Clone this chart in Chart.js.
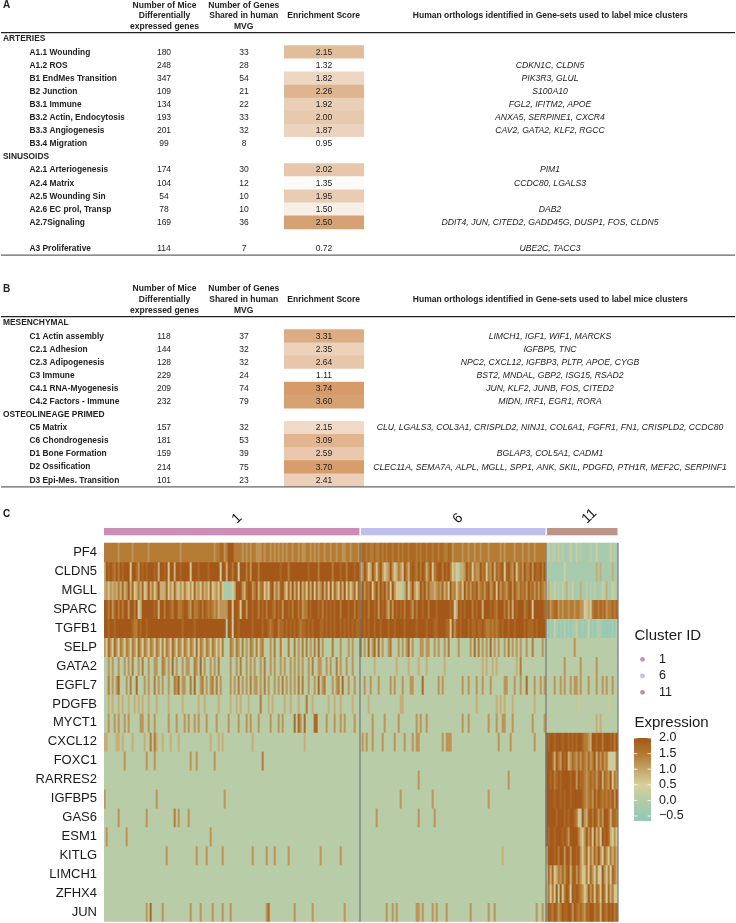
<!DOCTYPE html>
<html>
<head>
<meta charset="utf-8">
<title>Enrichment tables and cluster heatmap</title>
<script src="https://cdn.jsdelivr.net/npm/chart.js@4"></script>
<style>
  html, body { margin: 0; padding: 0; background: #fff; }
  body { position: relative; width: 736px; height: 923px; overflow: hidden; }
  canvas { position: absolute; left: 0; display: block; filter: blur(0.35px); }
  #heatmap { filter: blur(0.6px); }
</style>
</head>
<body>
<canvas id="tableA" width="736" height="262" style="top:0"></canvas>
<canvas id="tableB" width="736" height="222" style="top:270px"></canvas>
<canvas id="heatmap" width="736" height="418" style="top:505px"></canvas>
<canvas id="colorbar" width="100" height="96" style="left:620px;top:730px"></canvas>
<script>
// Table A
const rowsA = ["ARTERIES", "A1.1 Wounding", "A1.2 ROS", "B1 EndMes Transition", "B2 Junction", "B3.1 Immune", "B3.2 Actin, Endocytosis", "B3.3 Angiogenesis", "B3.4 Migration", "SINUSOIDS", "A2.1 Arteriogenesis", "A2.4 Matrix", "A2.5 Wounding Sin", "A2.6 EC prol, Transp", "A2.7Signaling", "", "A3 Proliferative"];
const miceA = [null, 180, 248, 347, 109, 134, 193, 201, 99, null, 174, 104, 54, 78, 169, null, 114];
const sharedA = [null, 33, 28, 54, 21, 22, 33, 32, 8, null, 30, 12, 10, 10, 36, null, 7];
const scoreA = [null, 2.15, 1.32, 1.82, 2.26, 1.92, 2.00, 1.87, 0.95, null, 2.02, 1.35, 1.95, 1.50, 2.50, null, 0.72];
const orthologsA = ["", "", "CDKN1C, CLDN5", "PIK3R3, GLUL", "S100A10", "FGL2, IFITM2, APOE", "ANXA5, SERPINE1, CXCR4", "CAV2, GATA2, KLF2, RGCC", "", "", "PIM1", "CCDC80, LGALS3", "", "DAB2", "DDIT4, JUN, CITED2, GADD45G, DUSP1, FOS, CLDN5", "", "UBE2C, TACC3"];

// Table B
const rowsB = ["MESENCHYMAL", "C1 Actin assembly", "C2.1 Adhesion", "C2.3 Adipogenesis", "C3 Immune", "C4.1 RNA-Myogenesis", "C4.2 Factors - Immune", "OSTEOLINEAGE PRIMED", "C5 Matrix", "C6 Chondrogenesis", "D1 Bone Formation", "D2 Ossification", "D3 Epi-Mes. Transition"];
const miceB = [null, 118, 144, 128, 229, 209, 232, null, 157, 181, 159, 214, 101];
const sharedB = [null, 37, 32, 32, 24, 74, 79, null, 32, 53, 39, 75, 23];
const scoreB = [null, 3.31, 2.35, 2.64, 1.11, 3.74, 3.60, null, 2.15, 3.09, 2.59, 3.70, 2.41];
const orthologsB = ["", "LIMCH1, IGF1, WIF1, MARCKS", "IGFBP5, TNC", "NPC2, CXCL12, IGFBP3, PLTP, APOE, CYGB", "BST2, MNDAL, GBP2, ISG15, RSAD2", "JUN, KLF2, JUNB, FOS, CITED2", "MIDN, IRF1, EGR1, RORA", "", "CLU, LGALS3, COL3A1, CRISPLD2, NINJ1, COL6A1, FGFR1, FN1, CRISPLD2, CCDC80", "", "BGLAP3, COL5A1, CADM1", "CLEC11A, SEMA7A, ALPL, MGLL, SPP1, ANK, SKIL, PDGFD, PTH1R, MEF2C, SERPINF1", ""];

// Heatmap. Each cell is a level 0-9 (0 = -0.5, 9 = 2.0).
// A string lists every cell of the cluster, {level: [cells]} lists the stripes on a background row.
const genes = ["PF4", "CLDN5", "MGLL", "SPARC", "TGFB1", "SELP", "GATA2", "EGFL7", "PDGFB", "MYCT1", "CXCL12", "FOXC1", "RARRES2", "IGFBP5", "GAS6", "ESM1", "KITLG", "LIMCH1", "ZFHX4", "JUN"];
const clusterNames = ["1", "6", "11"];
const clusterSizes = [128, 93, 36];

const cluster1Levels = [
  "7777777677 7777677777 7767777777 7777777767 7777777777 7777767788 6799977776 7676776667 6776767676 7677677676 6776767677 6776776776 67767776",
  "5989879798 9994998698 9899989599 8949959989 9994999899 9989999939 9599799399 9796999799 9999999989 9979999999 9989999799 9999799989 97999899",
  "5646565758 5695845758 4595746955 5846485464 7546485647 5648456474 1111359996 5899679578 4648957589 6485958495 7485948569 5849486485 94746848",
  "9979689797 9969979359 9999989599 7998799778 9976977897 9878767566 6699499849 9699899798 9799879896 9989799796 7798999897 9898989979 99899798",
  "9989989999 9999877989 9899999999 9999999998 9999989999 9999999999 9199399899 9999899998 9987899788 9898989878 8989899988 9898989989 89898988",
  "6386386376 3763763863 7637637637 3763863763 7637638376 3763763637 2227627627 2627627367 2226272274 2272272627 2726272826 2222722262 22626222",
  "2262622622 6262722627 2262266227 6262826226 2662276282 6226262722 2226226272 2626262262 7226262262 6226262626 2262722662 2626227262 26226222",
  "2272626822 2627228222 6262272626 2262276826 6227282267 2626727262 2226262726 2627266262 7262262627 2626262727 2262262826 7222626728 22622622",
  {5: [2, 4, 7, 9, 12, 15, 17, 19, 22, 26, 32, 39, 47, 50, 57, 63, 66, 68, 72, 82, 84, 90, 93, 97, 104, 112, 115, 118, 124], 7: [78, 101]},
  {6: [2, 5, 7, 10, 12, 18, 19, 22, 25, 32, 36, 40, 42, 45, 47, 51, 56, 62, 67, 71, 73, 77, 83, 87, 89, 98, 111, 115, 118, 120, 125], 8: [95, 97, 100, 105, 106]},
  {5: [0, 1, 6, 7, 9, 14, 20, 26, 29, 33, 37, 53, 57, 59, 74, 100], 7: [23, 25]},
  {6: [10, 21, 25, 43, 46, 55], 7: [79]},
  {},
  {6: [0, 26, 60]},
  {6: [7, 21, 37, 42], 7: [35]},
  {6: [1, 11, 53]},
  {6: [31, 46, 51, 59, 74, 81, 85, 92, 108, 118]},
  {},
  {},
  {6: [21, 29, 43, 48, 54, 59, 63, 81, 95, 104, 120], 8: [23, 82]}
];

const cluster6Levels = [
  "7887877877 8787887887 8788788878 7887887887 8877886777 7677677677 6777677777 6767777677 7677677677 777",
  "5697459747 9645696457 6497589879 7985794789 9798974532 5569784766 9784769587 8948976947 8697796988 979",
  "6968794796 9796849644 4158469645 9796866567 6857496746 7496868796 7868967949 6876896976 8786978686 876",
  "8989799896 9897596989 8979986979 9899799989 9999989359 8989997989 9599989879 9979695989 9978994999 998",
  "9989899899 8999899899 9989999989 9998999889 9998849689 8999898898 8987787878 9899899899 9989888989 999",
  "8262826828 2622672226 2626826222 6626622626 2262722226 2222262827 2626282626 2262726262 6226227222 262",
  {5: [7, 18, 24, 29, 33, 42, 61, 63, 66, 68, 78], 7: [80]},
  {6: [2, 5, 9, 15, 17, 21, 25, 26, 39, 41, 51, 54, 58, 61, 65, 72, 73, 77, 80, 87, 90, 92], 8: [31, 83]},
  {5: [4, 20, 21, 58, 68, 70, 72, 76, 87]},
  {6: [6, 12, 19, 28, 30, 33, 51, 54, 64, 68, 71, 72, 76, 86, 92]},
  {6: [1, 3, 6, 11, 17, 22, 26, 28, 29, 41, 43, 44, 45, 69, 75, 87]},
  {},
  {6: [29, 74]},
  {6: [20, 36, 64]},
  {6: [8, 29, 37]},
  {},
  {5: [71]},
  {},
  {},
  {6: [13, 16, 18, 28, 29, 31, 36, 38, 43, 55, 64, 67, 88, 91]}
];

const cluster11Levels = [
  "1312214121 1131131211 1121131111 113121",
  "1111111113 1111111111 1111151511 111511",
  "2521312131 5213111511 2121211132 511321",
  "7867886767 7677677663 4537887878 677878",
  "1010310102 0101140010 1301012100 000102",
  {6: [14]},
  {6: [9, 17, 25]},
  {6: [4, 7, 9, 12, 14, 15, 17, 21, 25, 28, 30, 33]},
  {4: [16, 31]},
  {5: [25, 27]},
  "9899899989 9898989987 7659989979 998979",
  "9998597698 9568768687 6867958686 743337",
  "9989789899 9989969887 6787868958 769476",
  "9999899898 9989999987 6786979878 787969",
  "9999989998 9899874296 5897986869 985887",
  "9899899989 8699997536 9684957498 985364",
  "5999897996 9969989646 8475869638 647575",
  "4858457686 8958968644 7486374396 473875",
  "5747492947 9839898764 5968487497 385743",
  "6987986798 8996987876 8899788598 798978"
];

const legendTicks = [-0.5, 0, 0.5, 1, 1.5, 2];

const FONT = '"Liberation Sans", Arial, sans-serif';
const clusterColors = ["#cb8db5", "#bfbfee", "#bb9588"];
const heatStops = [[-0.5, [152, 201, 180]], [0, [180, 203, 168]], [0.5, [215, 208, 156]], [1, [196, 163, 106]], [1.5, [179, 119, 48]], [2, [164, 88, 26]]];

function heatColor(value) {
  for (let i = 1; i < heatStops.length; i++) {
    if (value <= heatStops[i][0]) {
      const [v0, c0] = heatStops[i - 1];
      const [v1, c1] = heatStops[i];
      const t = Math.max(0, (value - v0) / (v1 - v0));
      return `rgb(${c0.map((c, k) => Math.round(c + (c1[k] - c) * t)).join(",")})`;
    }
  }
  return "rgb(164,88,26)";
}

function expandLevels(part, size) {
  if (typeof part === "string") return part.replace(/ /g, "").split("").map(Number);
  const out = new Array(size).fill(2);
  Object.keys(part).forEach((level) => part[level].forEach((cell) => (out[cell] = Number(level))));
  return out;
}

// ---- tables ----
function makeTable(id, t) {
  const draw = {
    id: "tableText",
    afterDraw(chart) {
      const ctx = chart.ctx;
      const y = chart.scales.y;
      const { top, bottom } = chart.chartArea;
      ctx.save();
      ctx.fillStyle = "#222";
      ctx.textBaseline = "middle";

      ctx.font = `bold 10px ${FONT}`;
      ctx.textAlign = "left";
      ctx.fillText(t.letter, 3, t.headerY[1] - 10.5);

      ctx.font = `bold 8.5px ${FONT}`;
      ctx.textAlign = "center";
      ["Number of Mice", "Differentially", "expressed genes"].forEach((s, i) => ctx.fillText(s, 164.5, t.headerY[i]));
      ["Number of Genes", "Shared in human", "MVG"].forEach((s, i) => ctx.fillText(s, 243.7, t.headerY[i]));
      ctx.fillText("Enrichment Score", 323.7, t.headerY[1]);
      ctx.fillText("Human orthologs identified in Gene-sets used to label mice clusters", 550.3, t.headerY[1]);

      t.rows.forEach((name, i) => {
        const py = y.getPixelForValue(i);
        ctx.textAlign = "left";
        ctx.font = `bold 8.4px ${FONT}`;
        if (t.mice[i] === null) {
          ctx.fillText(name, 3, py);
          return;
        }
        ctx.save();
        ctx.beginPath();
        ctx.rect(0, py - 8, 124.5, 16);
        ctx.clip();
        ctx.fillText(name, 29.5, py);
        ctx.restore();
        ctx.textAlign = "center";
        ctx.font = `8.5px ${FONT}`;
        ctx.fillText(t.mice[i], 164, py);
        ctx.fillText(t.shared[i], 244, py);
        ctx.fillText(t.score[i].toFixed(2), 324, py);
        ctx.font = `italic 8.65px ${FONT}`;
        ctx.fillText(t.orthologs[i], 550, py);
      });

      ctx.strokeStyle = "#222";
      ctx.lineWidth = 1.2;
      ctx.beginPath();
      ctx.moveTo(1, top);
      ctx.lineTo(735, top);
      ctx.stroke();
      ctx.strokeStyle = "#666";
      ctx.beginPath();
      ctx.moveTo(1, bottom);
      ctx.lineTo(735, bottom);
      ctx.stroke();
      ctx.restore();
    },
  };

  new Chart(document.getElementById(id), {
    type: "bar",
    data: {
      labels: t.rows,
      datasets: [
        {
          data: t.score.map((s) => (s === null ? null : [0, 1])),
          backgroundColor: t.score.map((s) => {
            const k = s === null ? 0 : Math.min(1, Math.max(0, (s - t.low) / (t.high - t.low)));
            return `rgb(${Math.round(255 - k * (255 - t.dark[0]))},${Math.round(255 - k * (255 - t.dark[1]))},${Math.round(255 - k * (255 - t.dark[2]))})`;
          }),
          barPercentage: 1,
          categoryPercentage: 1,
        },
      ],
    },
    options: {
      indexAxis: "y",
      responsive: false,
      animation: false,
      layout: { padding: { left: 284, right: 372, top: t.top, bottom: t.bottom } },
      plugins: { legend: { display: false }, tooltip: { enabled: false } },
      scales: {
        x: { display: false, min: 0, max: 1 },
        y: { display: false },
      },
    },
    plugins: [draw],
  });
}

makeTable("tableA", {
  letter: "A", rows: rowsA, mice: miceA, shared: sharedA, score: scoreA, orthologs: orthologsA,
  headerY: [5.5, 16, 27], top: 32.6, bottom: 6.8, low: 1.3, high: 2.5, dark: [214, 162, 115],
});
makeTable("tableB", {
  letter: "B", rows: rowsB, mice: miceB, shared: sharedB, score: scoreB, orthologs: orthologsB,
  headerY: [18.3, 30, 40.7], top: 46.6, bottom: 5.2, low: 1.2, high: 3.74, dark: [214, 155, 105],
});

// ---- heatmap ----
const totalCells = clusterSizes[0] + clusterSizes[1] + clusterSizes[2];
const cells = Array.from({ length: totalCells }, (_, i) => i);
const annotationTop = -0.79;
const annotationBottom = -0.42;

const geneDatasets = genes.map((gene, row) => {
  const levels = [
    ...expandLevels(cluster1Levels[row], clusterSizes[0]),
    ...expandLevels(cluster6Levels[row], clusterSizes[1]),
    ...expandLevels(cluster11Levels[row], clusterSizes[2]),
  ];
  return {
    label: gene,
    data: cells.map(() => [row, row + 1]),
    backgroundColor: levels.map((d) => heatColor(-0.5 + (d * 2.5) / 9)),
    barPercentage: 1,
    categoryPercentage: 1,
    grouped: false,
  };
});

const annotationDataset = {
  label: "Cluster",
  data: cells.map(() => [annotationTop, annotationBottom]),
  backgroundColor: cells.map((c) => clusterColors[c < clusterSizes[0] ? 0 : c < clusterSizes[0] + clusterSizes[1] ? 1 : 2]),
  barPercentage: 1,
  categoryPercentage: 1,
  grouped: false,
};

const heatmapExtras = {
  id: "heatmapExtras",
  afterDraw(chart) {
    const ctx = chart.ctx;
    const x = chart.scales.x;
    const y = chart.scales.y;
    ctx.save();
    ctx.fillStyle = "#111";
    ctx.textBaseline = "middle";
    ctx.textAlign = "left";
    ctx.font = `bold 10px ${FONT}`;
    ctx.fillText("C", 3, 9.5);

    // separators and cluster names
    let start = 0;
    clusterSizes.forEach((size, i) => {
      const left = x.getPixelForValue(start) - 1;
      const right = x.getPixelForValue(start + size - 1) + 1;
      ctx.fillStyle = "#fff";
      ctx.fillRect(right - 0.5, y.getPixelForValue(annotationTop), 1.5, y.getPixelForValue(annotationBottom) - y.getPixelForValue(annotationTop));
      ctx.strokeStyle = "#74777c";
      ctx.lineWidth = 1.2;
      ctx.beginPath();
      ctx.moveTo(right, y.getPixelForValue(0));
      ctx.lineTo(right, y.getPixelForValue(20));
      ctx.stroke();

      ctx.save();
      ctx.translate((left + right) / 2 + 5, 19);
      ctx.rotate(-Math.PI / 4);
      ctx.fillStyle = "#111";
      ctx.font = `14px ${FONT}`;
      ctx.textBaseline = "alphabetic";
      ctx.fillText(clusterNames[i], 0, 0);
      ctx.restore();
      start += size;
    });

    // cluster legend
    ctx.fillStyle = "#1a1a1a";
    ctx.font = `15px ${FONT}`;
    ctx.fillText("Cluster ID", 634.5, 131);
    ctx.fillText("Expression", 634.5, 218);
    ctx.font = `12.5px ${FONT}`;
    clusterNames.forEach((name, i) => {
      const py = 154.3 + i * 16.5;
      ctx.fillStyle = clusterColors[i];
      ctx.beginPath();
      ctx.arc(642.5, py, 2.4, 0, Math.PI * 2);
      ctx.fill();
      ctx.fillStyle = "#1a1a1a";
      ctx.fillText(name, 659, py);
    });
    ctx.restore();
  },
};

new Chart(document.getElementById("heatmap"), {
  type: "bar",
  data: { labels: cells, datasets: [annotationDataset, ...geneDatasets] },
  options: {
    responsive: false,
    animation: false,
    layout: { padding: { top: 23, bottom: 1.3, right: 118, left: 0 } },
    plugins: { legend: { display: false }, tooltip: { enabled: false } },
    scales: {
      x: { display: false, offset: true },
      y: {
        reverse: true,
        min: annotationTop,
        max: genes.length,
        afterFit: (s) => { s.width = 104; s.paddingTop = 0; s.paddingBottom = 0; },
        afterBuildTicks: (s) => { s.ticks = genes.map((g, i) => ({ value: i + 0.5 })); },
        grid: { display: false, drawTicks: false },
        border: { display: false },
        ticks: {
          autoSkip: false,
          padding: 7,
          color: "#1a1a1a",
          font: { family: FONT, size: 13 },
          callback: (v) => genes[Math.floor(v)],
        },
      },
    },
  },
  plugins: [heatmapExtras],
});

// ---- colour bar ----
const barTicks = {
  id: "barTicks",
  afterDatasetsDraw(chart) {
    const ctx = chart.ctx;
    const { left, right } = chart.chartArea;
    ctx.save();
    ctx.strokeStyle = "rgba(255,255,255,0.85)";
    ctx.lineWidth = 1;
    legendTicks.forEach((v) => {
      const py = chart.scales.y.getPixelForValue(v);
      ctx.beginPath();
      ctx.moveTo(left, py);
      ctx.lineTo(left + 3.4, py);
      ctx.moveTo(right - 3.4, py);
      ctx.lineTo(right, py);
      ctx.stroke();
    });
    ctx.restore();
  },
};

new Chart(document.getElementById("colorbar"), {
  type: "bar",
  data: {
    labels: ["Expression"],
    datasets: [
      {
        data: [[-0.66, 2]],
        barPercentage: 1,
        categoryPercentage: 1,
        backgroundColor: (c) => {
          const area = c.chart.chartArea;
          if (!area) return "#b4cba8";
          const g = c.chart.ctx.createLinearGradient(0, area.bottom, 0, area.top);
          heatStops.forEach(([v]) => g.addColorStop((v + 0.66) / 2.66, heatColor(v)));
          g.addColorStop(0, heatColor(-0.5));
          return g;
        },
      },
    ],
  },
  options: {
    responsive: false,
    animation: false,
    layout: { padding: { left: 14, top: 8, bottom: 5, right: 0 } },
    plugins: { legend: { display: false }, tooltip: { enabled: false } },
    scales: {
      x: { display: false },
      y: {
        position: "right",
        min: -0.66,
        max: 2,
        afterFit: (s) => { s.width = 69; s.paddingTop = 0; s.paddingBottom = 0; },
        afterBuildTicks: (s) => { s.ticks = legendTicks.map((v) => ({ value: v })); },
        grid: { display: false, drawTicks: false },
        border: { display: false },
        ticks: {
          autoSkip: false,
          padding: 8,
          color: "#1a1a1a",
          font: { family: FONT, size: 12.5 },
          callback: (v) => v.toFixed(1).replace("-", "\u2212"),
        },
      },
    },
  },
  plugins: [barTicks],
});
</script>
</body>
</html>
